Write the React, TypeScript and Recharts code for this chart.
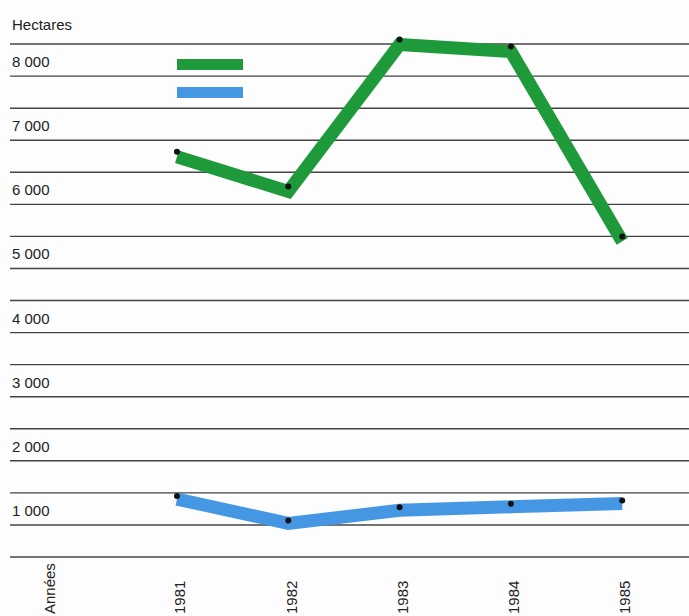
import React from 'react';
import { LineChart, Line, XAxis, YAxis, CartesianGrid, Legend } from 'recharts';

const years = [1981, 1982, 1983, 1984, 1985];
const greenValues = [6320, 5780, 8070, 7960, 5000];
const blueValues = [950, 570, 775, 830, 880];
const gridTicks = [0, 500, 1000, 1500, 2000, 2500, 3000, 3500, 4000, 4500, 5000, 5500, 6000, 6500, 7000, 7500, 8000];
const labelledTicks = [1000, 2000, 3000, 4000, 5000, 6000, 7000, 8000];
const yTitle = 'Hectares';
const xTitle = 'Années';
const seriesOrder = ['green', 'blue'];

const data = years.map((year, i) => ({ year, green: greenValues[i], blue: blueValues[i] }));

const FONT = '"Liberation Sans", Arial, Helvetica, sans-serif';
const TEXT = '#222';
const FS = 15;

const fmt = (v: number) => {
  const s = String(v);
  return s.length > 3 ? s.slice(0, s.length - 3) + ' ' + s.slice(-3) : s;
};

const YTick = (props: any) => {
  const { y, payload } = props;
  const v = payload?.value;
  if (!labelledTicks.includes(v)) return <g />;
  return (
    <text x={12} y={y + 23} fill={TEXT} fontSize={FS} fontFamily={FONT} textAnchor="start">
      {fmt(v)}
    </text>
  );
};

const XTick = (props: any) => {
  const { x, payload } = props;
  const tx = x + 3;
  return (
    <text
      x={tx}
      y={614}
      dy="0.35em"
      transform={`rotate(-90, ${tx}, 614)`}
      fill={TEXT}
      fontSize={FS}
      fontFamily={FONT}
      textAnchor="start"
    >
      {payload.value}
    </text>
  );
};

const YTitle = () => (
  <text x={12} y={30} fill={TEXT} fontSize={FS} fontFamily={FONT} textAnchor="start">
    {yTitle}
  </text>
);

const XTitle = () => (
  <text
    x={50}
    y={614}
    dy="0.35em"
    transform="rotate(-90, 50, 614)"
    fill={TEXT}
    fontSize={FS}
    fontFamily={FONT}
    textAnchor="start"
  >
    {xTitle}
  </text>
);

const LegendSwatches = (props: any) => {
  const payload = (props.payload || []).filter((p: any) => seriesOrder.includes(p.value));
  payload.sort((a: any, b: any) => seriesOrder.indexOf(a.value) - seriesOrder.indexOf(b.value));
  return (
    <div style={{ display: 'flex', flexDirection: 'column', gap: 17 }}>
      {payload.map((p: any, i: number) => (
        <div key={i} style={{ width: 66, height: 11, background: p.color }} />
      ))}
    </div>
  );
};

const gridGen = (args: any) => {
  const yAxis = args?.yAxis;
  if (yAxis && typeof yAxis.scale === 'function') {
    return gridTicks.map((t) => yAxis.scale(t));
  }
  const off = args?.offset || { top: 12, height: 545 };
  return gridTicks.map((t) => off.top + off.height * (1 - t / 8500));
};

export default function App() {
  return (
    <div style={{ position: 'absolute', left: 0, top: 0, width: 689, height: 616, background: '#fdfdfd' }}>
      <LineChart width={689} height={616} data={data} margin={{ top: 12, right: 0, bottom: 0, left: 10 }}>
        <CartesianGrid
          horizontal={true}
          vertical={false}
          stroke="#444"
          strokeWidth={1.4}
          horizontalCoordinatesGenerator={gridGen}
        />
        <XAxis
          dataKey="year"
          type="number"
          domain={[1979.5, 1985.6]}
          ticks={years}
          interval={0}
          axisLine={false}
          tickLine={false}
          height={59}
          tick={<XTick />}
          label={<XTitle />}
        />
        <YAxis
          type="number"
          domain={[0, 8500]}
          ticks={gridTicks}
          interval={0}
          width={60}
          mirror={true}
          axisLine={false}
          tickLine={false}
          tick={<YTick />}
          label={<YTitle />}
        />
        <Legend
          layout="vertical"
          align="center"
          verticalAlign="middle"
          content={<LegendSwatches />}
          wrapperStyle={{ position: 'absolute', left: 177, top: 59, width: 70 }}
        />
        <Line
          type="linear"
          dataKey="green"
          name="green"
          stroke="#1f9a3a"
          strokeWidth={13}
          strokeLinejoin="miter"
          transform="translate(0,5)"
          dot={false}
          activeDot={false}
          isAnimationActive={false}
        />
        <Line
          type="linear"
          dataKey="blue"
          name="blue"
          stroke="#4597e3"
          strokeWidth={13}
          strokeLinejoin="miter"
          transform="translate(0,3)"
          dot={false}
          activeDot={false}
          isAnimationActive={false}
        />
        <Line
          type="linear"
          dataKey="green"
          name="green-points"
          stroke="none"
          legendType="none"
          dot={{ r: 3, fill: '#111', stroke: 'none' }}
          activeDot={false}
          isAnimationActive={false}
        />
        <Line
          type="linear"
          dataKey="blue"
          name="blue-points"
          stroke="none"
          legendType="none"
          dot={{ r: 3, fill: '#111', stroke: 'none' }}
          activeDot={false}
          isAnimationActive={false}
        />
      </LineChart>
    </div>
  );
}
